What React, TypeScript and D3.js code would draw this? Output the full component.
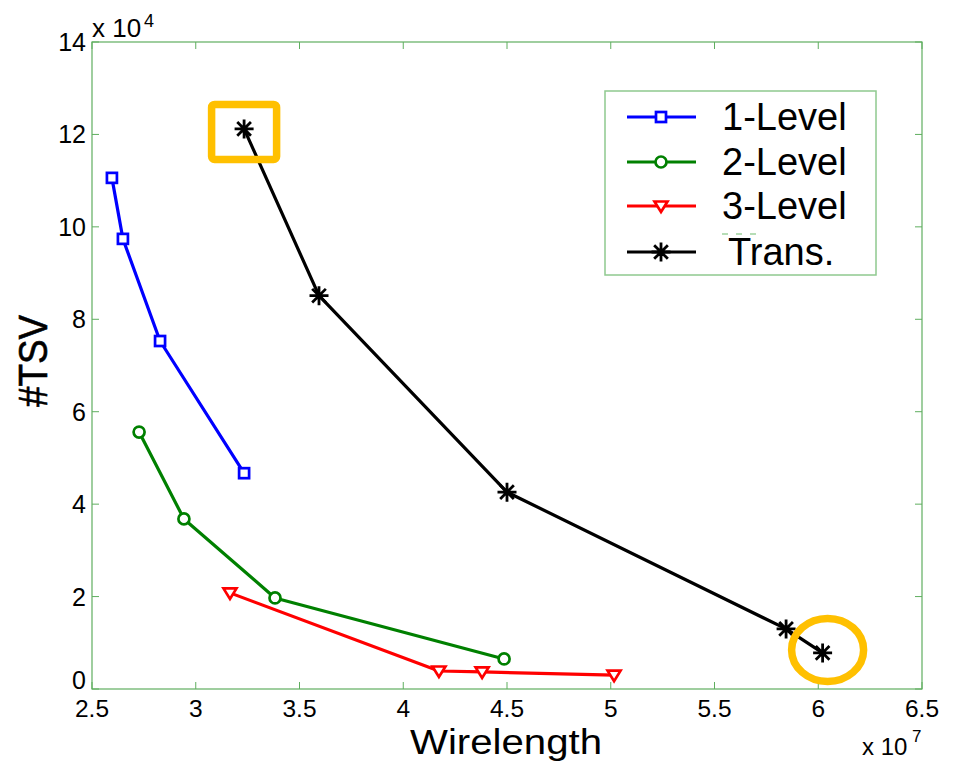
import * as d3 from 'd3'

// values (x in 1e7, y in 1e4)
const wl1 = [2.596, 2.649, 2.828, 3.233]
const tsv1 = [11.06, 9.74, 7.53, 4.67]
const wl2 = [2.727, 2.943, 3.382, 4.486]
const tsv2 = [5.56, 3.68, 1.97, 0.65]
const wl3 = [3.165, 4.172, 4.38, 5.016]
const tsv3 = [2.08, 0.39, 0.37, 0.3]
const wlT = [3.233, 3.594, 4.5, 5.845, 6.021]
const tsvT = [12.12, 8.51, 4.26, 1.3, 0.78]

const xTicks = [2.5, 3, 3.5, 4, 4.5, 5, 5.5, 6, 6.5]
const yTicks = [0, 2, 4, 6, 8, 10, 12, 14]
const names = ['1-Level', '2-Level', '3-Level', 'Trans.']

const W = 953
const H = 762
const m = { left: 92, right: 922, top: 42, bottom: 689 }
const font = '"Liberation Sans", Arial, sans-serif'
const axisGreen = '#5fae5f'
const gold = '#ffc000'

const x = d3.scaleLinear().domain([2.5, 6.5]).range([m.left, m.right])
const y = d3.scaleLinear().domain([0, 14]).range([m.bottom, m.top])

const series = [
  { name: names[0], xs: wl1, ys: tsv1, color: '#0000ff', marker: 'square' },
  { name: names[1], xs: wl2, ys: tsv2, color: '#008000', marker: 'circle' },
  { name: names[2], xs: wl3, ys: tsv3, color: '#ff0000', marker: 'tri' },
  { name: names[3], xs: wlT, ys: tsvT, color: '#000000', marker: 'star' },
]

function Marker({ type, cx, cy, color }: { type: string; cx: number; cy: number; color: string }) {
  const sw = 2.7
  if (type === 'square')
    return <rect x={cx - 5} y={cy - 5} width={10} height={10} fill="#fff" stroke={color} strokeWidth={sw} />
  if (type === 'circle')
    return <circle cx={cx} cy={cy} r={5.5} fill="#fff" stroke={color} strokeWidth={sw} />
  if (type === 'tri')
    return (
      <path
        d={`M${cx - 6.5},${cy - 4.5}L${cx + 6.5},${cy - 4.5}L${cx},${cy + 6}Z`}
        fill="#fff"
        stroke={color}
        strokeWidth={sw}
      />
    )
  const r = 9.5
  const d = r * 0.72
  return (
    <path
      d={`M${cx - r},${cy}H${cx + r}M${cx},${cy - r}V${cy + r}M${cx - d},${cy - d}L${cx + d},${cy + d}M${cx - d},${cy + d}L${cx + d},${cy - d}`}
      stroke={color}
      strokeWidth={2.8}
    />
  )
}

export default function App() {
  const line = d3.line<number>()

  const first = [x(wlT[0]), y(tsvT[0])]
  const last = [x(wlT[wlT.length - 1]), y(tsvT[tsvT.length - 1])]

  return (
    <div style={{ position: 'absolute', left: 0, top: 0 }}>
      <svg width={W} height={H} style={{ display: 'block', background: '#fff', fontFamily: font }}>
        {/* ticks */}
        {xTicks.map(t => (
          <g key={'x' + t}>
            <line x1={x(t)} x2={x(t)} y1={m.bottom} y2={m.bottom - 7} stroke={axisGreen} />
            <line x1={x(t)} x2={x(t)} y1={m.top} y2={m.top + 7} stroke={axisGreen} />
            <text x={x(t)} y={717} fontSize={24.5} textAnchor="middle" fill="#000">{t}</text>
          </g>
        ))}
        {yTicks.map(t => (
          <g key={'y' + t}>
            <line x1={m.left} x2={m.left + 7} y1={y(t)} y2={y(t)} stroke={axisGreen} />
            <line x1={m.right} x2={m.right - 7} y1={y(t)} y2={y(t)} stroke={axisGreen} />
            <text x={86} y={y(t) + (t === 0 ? 0 : 9)} fontSize={25} textAnchor="end" fill="#000">{t}</text>
          </g>
        ))}

        <rect x={m.left} y={m.top} width={m.right - m.left} height={m.bottom - m.top} fill="none" stroke={axisGreen} strokeWidth={1.2} />

        {/* exponents */}
        <text x={92} y={37} fontSize={26} fill="#000">x 10</text>
        <text x={144} y={27} fontSize={18} fill="#000">4</text>
        <text x={862} y={755} fontSize={24} fill="#000">x 10</text>
        <text x={912} y={742} fontSize={17} fill="#000">7</text>

        {/* axis labels */}
        <text x={410} y={754} fontSize={34.5} textLength={192} lengthAdjust="spacingAndGlyphs" fill="#000">Wirelength</text>
        <text
          transform="translate(47,361) rotate(-90)"
          fontSize={41}
          textAnchor="middle"
          textLength={92}
          lengthAdjust="spacingAndGlyphs"
          fill="#000"
          stroke="#000"
          strokeWidth={0.6}
        >
          #TSV
        </text>

        {/* series */}
        {series.map(s => (
          <g key={s.name}>
            <path
              d={line(s.xs.map((v, i) => [x(v), y(s.ys[i])]) as any) || ''}
              fill="none"
              stroke={s.color}
              strokeWidth={3.2}
              strokeLinejoin="round"
            />
            {s.xs.map((v, i) => (
              <Marker key={i} type={s.marker} cx={x(v)} cy={y(s.ys[i])} color={s.color} />
            ))}
          </g>
        ))}

        {/* highlight annotations */}
        <rect x={first[0] - 32.5} y={first[1] - 24.5} width={65} height={55} rx={3} fill="none" stroke={gold} strokeWidth={7.5} />
        <ellipse cx={last[0] + 5} cy={last[1] - 3} rx={36} ry={31.5} fill="none" stroke={gold} strokeWidth={7.5} />

        {/* legend */}
        <rect x={605} y={91} width={271} height={184} fill="#fff" stroke="#8fc98f" strokeWidth={1.5} />
        <line x1={722} x2={762} y1={234} y2={234} stroke="#9fd29f" strokeWidth={1.5} strokeDasharray="6,8" />
        {series.map((s, i) => {
          const ly = [117, 162, 206, 252][i]
          return (
            <g key={'lg' + s.name}>
              <line x1={627} x2={696} y1={ly} y2={ly} stroke={s.color} strokeWidth={3.2} />
              <Marker type={s.marker} cx={661} cy={ly} color={s.color} />
              <text x={i === 3 ? 728 : 722} y={ly + 13} fontSize={38} fill="#000">{s.name}</text>
            </g>
          )
        })}
      </svg>
    </div>
  )
}
